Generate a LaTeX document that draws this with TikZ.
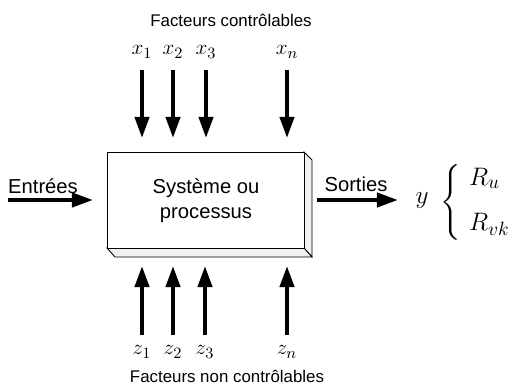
\documentclass[tikz,border=0pt]{standalone}
\usepackage{amsmath}
\usepackage{fontspec}
\setmainfont{Liberation Sans}
\usetikzlibrary{arrows.meta}
\tikzset{
  bigarrow/.style={line width=2.3pt,-{Triangle[length=12pt,width=8pt]}},
  txt/.style={font=\fontsize{9.6}{11}\selectfont,inner sep=0pt},
  var/.style={font=\fontsize{13}{15}\selectfont,inner sep=0pt},
  side/.style={draw,line width=0.5pt,fill=gray!12}
}
\begin{document}
\begin{tikzpicture}[x=0.02cm,y=-0.02cm]
  \useasboundingbox (0,0) rectangle (508,390);
  % block with its depth
  \draw[side] (304,152) -- (312,160) -- (312,257) -- (304,248) -- cycle;
  \draw[side] (107,248) -- (304,248) -- (312,257) -- (115,257) -- cycle;
  \node[draw,line width=0.6pt,fill=white,minimum width=197*0.02cm,minimum height=96*0.02cm,
        anchor=north west,align=center,txt,font=\fontsize{11.5}{14}\selectfont]
        (sys) at (107,152) {Syst\`eme ou\\processus};

  % controllable factors
  \node[txt] (fc) at (231,20) {Facteurs contr\^olables};
  \foreach \nm/\lab/\xx in {x1/x_1/142,x2/x_2/173,x3/x_3/206,xn/x_n/287}{
    \node[var] (\nm) at (\xx,52) {$\lab$};
    \coordinate (\nm e) at (\xx,138);
    \draw[bigarrow] (\xx,70) -- (\nm e);
  }

  % non controllable factors
  \node[txt] (fn) at (227,376) {Facteurs non contr\^olables};
  \foreach \nm/\lab/\xx in {z1/z_1/142,z2/z_2/173,z3/z_3/205,zn/z_n/287}{
    \node[var] (\nm) at (\xx,352) {$\lab$};
    \coordinate (\nm s) at (\xx,335);
    \draw[bigarrow] (\nm s) -- (\xx,266);
  }

  % inputs / outputs
  \node[txt,font=\fontsize{11.5}{14}\selectfont] (in) at (43,186) {Entr\'ees};
  \coordinate (ina) at (8,200);
  \coordinate (inb) at (93,200);
  \draw[bigarrow] (ina) -- (inb);
  \node[txt,font=\fontsize{11.5}{14}\selectfont] (outl) at (356,184) {Sorties};
  \node[var,font=\fontsize{15}{17}\selectfont] (y) at (422,201) {$y$};
  \coordinate (outa) at (317,200);
  \coordinate (outb) at (398,200);
  \draw[bigarrow] (outa) -- (outb);
  \node[var,font=\fontsize{15}{17}\selectfont,anchor=west] (R) at (440,202)
    {$\left\{\,\begin{array}{@{\,}l@{}}R_u\\[9pt]R_{vk}\end{array}\right.$};
\end{tikzpicture}
\end{document}
